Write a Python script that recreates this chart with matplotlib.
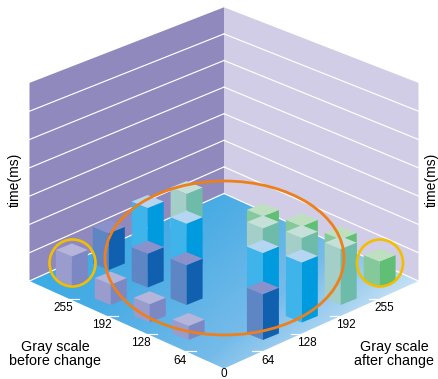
import matplotlib
matplotlib.use('Agg')
import matplotlib.pyplot as plt
import numpy as np
from matplotlib.colors import LinearSegmentedColormap
from matplotlib.patches import Ellipse, Polygon

plt.rcParams['font.family'] = ['Liberation Sans', 'DejaVu Sans']

# Tick labels on the two floor axes
after_labels = ['0', '64', '128', '192', '255']
before_labels = ['0', '64', '128', '192', '255']

# Bars, one list per "after" column
# (before index, time). The scale has no numbers so 10 units = one gridline.
after_0_before = [1, 2, 3, 4]
after_0_time = [5.2, 6.7, 7.4, 11.1]
after_1_before = [0, 2, 3, 4]
after_1_time = [17.0, 14.8, 12.4, 13.3]
after_2_before = [0, 1, 3, 4]
after_2_time = [22.0, 19.3, 17.2, 16.3]
after_3_before = [0, 1, 2, 4]
after_3_time = [20.2, 18.1, 15.4, 15.2]
after_4_before = [0, 1, 2, 3]
after_4_time = [9.3, 11.1, 9.6, 6.9]

columns = [
    (0, after_0_before, after_0_time),
    (1, after_1_before, after_1_time),
    (2, after_2_before, after_2_time),
    (3, after_3_before, after_3_time),
    (4, after_4_before, after_4_time),
]

# top, left side, right side of the bars in each column
bar_colors = [
    ('#B5B4DA', '#9B9CCE', '#7C88C4'),
    ('#8B92CB', '#5F86C4', '#1160B0'),
    ('#B4D6F3', '#3EB4EA', '#009ADE'),
    ('#C4E0D8', '#A3CFC8', '#6FBBAA'),
    ('#BFE0C0', '#85C99A', '#60BF75'),
]

# Screen layout of the floor
front_x, front_y = 224.0, 368.5
step_x, step_y = 38.9, 17.5


def project(u, v, z=0.0):
    # u is the after axis, v the before axis, z is time
    scale = 2.66 + 0.17 * abs(u - v) / 5.0
    x = front_x + (u - v) * step_x
    y = front_y - (u + v) * step_y - z * scale
    return x, y


def draw_bar(ax, u, v, z, colors):
    dx, dy = 16.0, 6.5
    x_c, y_c = project(u + 0.5, v + 0.5)
    x_t, y_t = project(u + 0.5, v + 0.5, z)
    # bars left of the middle sit slightly inwards in the original
    if v > u:
        nudge = 3.5 if u == 0 else 1.5
        x_c += nudge
        x_t += nudge
    top = [(x_t, y_t - dy), (x_t + dx, y_t), (x_t, y_t + dy), (x_t - dx, y_t)]
    left = [(x_t - dx, y_t), (x_t, y_t + dy), (x_c, y_c + dy), (x_c - dx, y_c)]
    right = [(x_t + dx, y_t), (x_t, y_t + dy), (x_c, y_c + dy), (x_c + dx, y_c)]
    # bars further back are drawn first
    order = 20 - (u + v)
    for pts, col in zip((left, right, top), (colors[1], colors[2], colors[0])):
        ax.add_patch(Polygon(pts, closed=True, facecolor=col, edgecolor='none', zorder=order))


fig = plt.figure(figsize=(4.39, 3.79), dpi=100)
ax = fig.add_axes([0, 0, 1, 1])

# walls
back = project(5, 5)
left_c = project(0, 5)
right_c = project(5, 0)
wall_top = 70
ax.add_patch(Polygon([project(5, 5, wall_top), project(0, 5, wall_top), left_c, back],
                     closed=True, facecolor='#9089BD', edgecolor='none', zorder=1))
ax.add_patch(Polygon([project(5, 5, wall_top), project(5, 0, wall_top), right_c, back],
                     closed=True, facecolor='#D1CDE6', edgecolor='none', zorder=1))

# floor, lighter to the right and towards the front
floor = Polygon([back, right_c, project(0, 0), left_c], closed=True,
                facecolor='none', edgecolor='none', zorder=3)
ax.add_patch(floor)
cmap = LinearSegmentedColormap.from_list(
    'floor', [(0.0, '#3DABE4'), (0.23, '#3DABE4'), (0.41, '#4AACE4'),
              (0.75, '#75BBEA'), (1.0, '#C4E0F4')])
gx, gy = np.meshgrid(np.linspace(0, 1, 200), np.linspace(0, 1, 100))
grad = 0.8 * gx + 0.4 * gy
im = ax.imshow(grad, cmap=cmap, vmin=0, vmax=1, origin='lower',
               extent=(left_c[0], right_c[0], back[1], front_y),
               aspect='auto', zorder=3)
im.set_clip_path(floor)

# gridlines on the walls, level 0 runs along the edge of the floor
for level in range(0, wall_top, 10):
    for end in (project(0, 5, level), project(5, 0, level)):
        c = project(5, 5, level)
        ax.plot([c[0], end[0]], [c[1], end[1]], color='white', lw=0.85, zorder=4)

# tick marks and labels on the floor edges
for i in range(1, 5):
    x, y = project(0, i)
    ax.plot([x + 0.5, x + 10.5], [y, y], color='white', lw=0.85, zorder=4)
    ax.text(x - 5.3, y + 9.5, before_labels[i], ha='center', va='center', fontsize=8.5)
    x, y = project(i, 0)
    ax.plot([x - 10.5, x + 1], [y, y], color='white', lw=0.85, zorder=4)
    ax.text(x + 5, y + 9.5, after_labels[i], ha='center', va='center', fontsize=8.5)
ax.text(front_x, 374.3, after_labels[0], ha='center', va='center', fontsize=8.5)

# bars
for u, befores, times in columns:
    for v, t in zip(befores, times):
        draw_bar(ax, u, v, t, bar_colors[u])

# highlight rings
ax.add_patch(Ellipse((224.5, 258), 239, 154, fill=False, edgecolor='#EE7F1A', lw=2.0, zorder=40))
ax.add_patch(Ellipse((72.5, 263), 46, 47, fill=False, edgecolor='#F2BE00', lw=1.9, zorder=40))
ax.add_patch(Ellipse((380, 263), 46, 47, fill=False, edgecolor='#F2BE00', lw=1.9, zorder=40))

ax.text(15, 180, 'time(ms)', rotation=90, ha='center', va='center', fontsize=10)
ax.text(432, 180, 'time(ms)', rotation=90, ha='center', va='center', fontsize=10)
ax.text(55, 354, 'Gray scale\nbefore change', ha='center', va='center', fontsize=10.3, linespacing=1.05)
ax.text(394, 354, 'Gray scale\nafter change', ha='center', va='center', fontsize=10.3, linespacing=1.05)

ax.set_xlim(0, 439)
ax.set_ylim(379, 0)
ax.axis('off')
fig.savefig('out.png', dpi=100)
